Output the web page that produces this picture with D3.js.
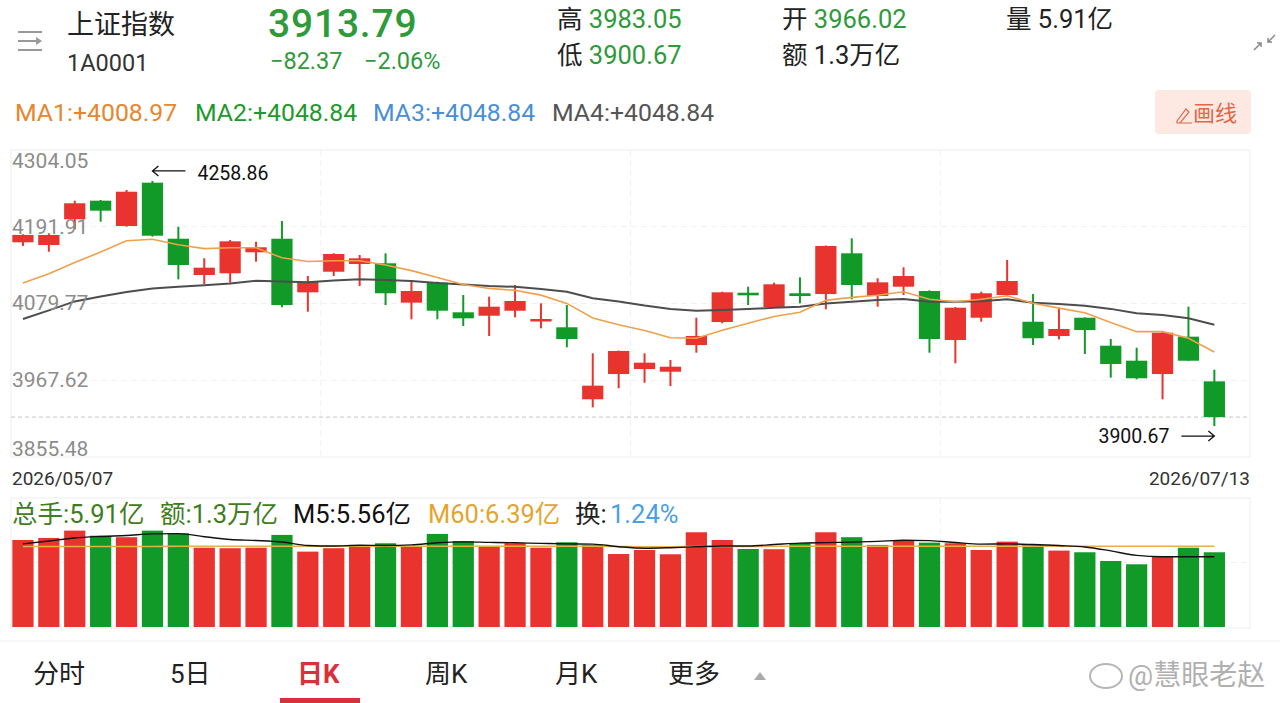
<!DOCTYPE html>
<html>
<head>
<meta charset="utf-8">
<script src="https://cdn.jsdelivr.net/npm/d3@7"></script>
<style>
  body { margin: 0; background: #fff; }
  svg { display: block; font-family: Roboto, "Noto Sans CJK SC", sans-serif; }
</style>
</head>
<body>
<div id="chart"></div>
<script>
// trading days 2026/05/07 .. 2026/07/13
var dates = ['05/07','05/08','05/11','05/12','05/13','05/14','05/15','05/18','05/19','05/20',
  '05/21','05/22','05/25','05/26','05/27','05/28','05/29','06/01','06/02','06/03',
  '06/04','06/05','06/08','06/09','06/10','06/11','06/12','06/15','06/16','06/17',
  '06/18','06/22','06/23','06/24','06/25','06/26','06/29','06/30','07/01','07/02',
  '07/03','07/06','07/07','07/08','07/09','07/10','07/13'];

var open = [4169.2,4165.2,4202.8,4230.0,4193.0,4256.3,4174.4,4121.4,4123.9,4154.6,
  4174.4,4096.1,4126.2,4137.5,4138.5,4081.0,4110.2,4066.9,4061.9,4069.2,
  4054.2,4045.0,3939.8,3976.7,3984.0,3980.1,4019.1,4052.7,4095.5,4074.2,
  4094.7,4093.6,4153.1,4090.7,4104.3,4098.0,4026.4,4059.0,4092.2,4053.1,
  4032.3,4059.0,4018.1,3996.2,3976.7,4031.3,3966.02];
var high = [4180.9,4182.3,4230.0,4231.0,4245.6,4258.86,4192.0,4145.8,4172.5,4170.0,
  4200.3,4119.9,4153.1,4150.6,4153.1,4111.6,4111.6,4092.2,4089.7,4106.8,
  4080.0,4077.5,4007.0,4011.0,4007.0,3997.2,4059.0,4097.0,4104.3,4110.2,
  4118.0,4164.5,4175.0,4116.6,4132.6,4099.0,4074.5,4097.0,4143.3,4093.6,
  4072.7,4059.5,4027.9,4015.2,4038.0,4075.1,3983.05];
var low = [4163.8,4155.4,4188.2,4199.3,4192.0,4177.5,4115.1,4108.2,4110.2,4140.8,
  4074.2,4067.8,4119.9,4105.3,4077.5,4056.7,4056.7,4046.9,4032.3,4059.6,
  4043.5,4015.8,3928.1,3955.9,3964.0,3959.2,4007.9,4050.8,4077.5,4074.0,
  4080.0,4071.3,4085.9,4075.1,4092.2,4007.9,3992.4,4053.1,4091.0,4019.1,
  4027.4,4006.0,3971.4,3969.0,3939.8,3996.0,3900.67];
var close = [4179.9,4179.9,4226.2,4215.4,4243.1,4178.8,4136.0,4132.1,4170.6,4161.9,
  4077.5,4111.6,4152.1,4145.8,4094.7,4098.0,4069.2,4058.1,4075.1,4083.4,
  4057.1,4027.9,3959.7,4010.4,3993.3,3987.4,4032.3,4096.1,4091.7,4107.8,
  4090.7,4163.8,4106.8,4110.7,4119.9,4027.9,4073.6,4094.7,4112.6,4029.0,
  4042.5,4041.0,3991.4,3970.5,4037.1,3996.16,3913.79];

var ma1 = [4109.7,4123.3,4139.7,4155.0,4171.5,4173.6,4165.7,4160.0,4161.2,4161.3,
  4146.5,4141.1,4142.3,4142.3,4136.0,4127.8,4117.8,4107.4,4101.8,4099.0,
  4092.0,4079.9,4058.6,4048.8,4040.2,4029.8,4028.9,4040.6,4051.0,4060.9,
  4066.9,4084.3,4088.7,4091.9,4096.9,4086.0,4082.4,4086.0,4091.0,4080.0,
  4073.0,4066.3,4052.1,4038.6,4038.6,4028.9,4008.97];
var ma2 = [4057.1,4069.7,4082.8,4090.0,4096.6,4101.8,4104.2,4106.6,4109.0,4113.1,
  4111.8,4110.7,4113.4,4115.1,4114.1,4112.6,4109.7,4107.4,4105.3,4104.2,
  4100.8,4097.0,4087.5,4082.7,4076.7,4071.7,4069.2,4070.3,4071.6,4073.5,
  4075.1,4079.9,4082.2,4084.7,4086.3,4082.5,4082.4,4083.0,4085.9,4081.0,
  4079.0,4076.5,4071.9,4065.5,4063.0,4058.2,4048.84];

// volume, 亿
var volume = [6.88,7.04,7.62,7.22,7.10,7.62,7.41,6.27,6.23,6.27,
  7.28,5.96,6.23,6.41,6.62,6.41,7.36,6.80,6.41,6.62,
  6.27,6.70,6.49,5.77,6.09,5.75,7.49,6.88,6.17,6.15,
  6.62,7.49,7.10,6.49,6.80,6.67,6.62,6.09,6.75,6.49,
  6.04,5.91,5.22,4.96,5.56,6.27,5.91];
var volM5 = [6.57,6.80,7.04,7.16,7.24,7.36,7.38,7.14,6.92,6.84,
  6.72,6.45,6.41,6.46,6.45,6.49,6.66,6.73,6.69,6.66,
  6.61,6.57,6.55,6.35,6.23,6.27,6.34,6.41,6.41,6.52,
  6.63,6.67,6.71,6.77,6.86,6.83,6.68,6.55,6.57,6.52,
  6.44,6.33,6.02,5.66,5.56,5.56,5.56];
var volM60 = [6.36,6.36,6.37,6.37,6.37,6.37,6.38,6.38,6.38,6.38,
  6.38,6.38,6.38,6.38,6.38,6.38,6.38,6.38,6.38,6.38,
  6.38,6.38,6.38,6.37,6.35,6.35,6.36,6.37,6.37,6.38,
  6.38,6.38,6.38,6.38,6.38,6.38,6.38,6.38,6.38,6.38,
  6.39,6.39,6.39,6.39,6.39,6.39,6.39];

var priceTicks = [4304.05, 4191.91, 4079.77, 3967.62, 3855.48];
var tabs = ['分时', '5日', '日K', '周K', '月K', '更多'];

var RED = '#e8332f', GREEN = '#129a28';

var svg = d3.select('#chart').append('svg')
  .attr('width', 1280)
  .attr('height', 703);

// ---------------- header ----------------
var head = svg.append('g');
// list icon
head.append('path')
  .attr('d', 'M18,32H42M18,41H36M18,50H42')
  .attr('stroke', '#999').attr('stroke-width', 2).attr('fill', 'none');
head.append('path').attr('d', 'M36,37L42,41L36,45Z').attr('fill', '#999');

head.append('text').attr('x', 67).attr('y', 34).attr('font-size', 27).attr('fill', '#222').text('上证指数');
head.append('text').attr('x', 67).attr('y', 71).attr('font-size', 23.5).attr('fill', '#333').text('1A0001');
head.append('text').attr('x', 268).attr('y', 37).attr('font-size', 39).attr('font-weight', 500)
  .attr('letter-spacing', 0.8)
  .attr('fill', '#2e9a3a').text('3913.79');
head.append('text').attr('x', 270).attr('y', 68.5).attr('font-size', 23.5).attr('fill', '#2e9a3a')
  .text('−82.37');
head.append('text').attr('x', 364).attr('y', 68.5).attr('font-size', 23.5).attr('fill', '#2e9a3a')
  .text('−2.06%');

function pair(x, y, label, val, col) {
  var t = head.append('text').attr('x', x).attr('y', y).attr('font-size', 25.5);
  t.append('tspan').attr('fill', '#222').text(label + ' ');
  t.append('tspan').attr('fill', col).text(val);
}
pair(557, 28, '高', '3983.05', '#2e9a3a');
pair(557, 64, '低', '3900.67', '#2e9a3a');
pair(782, 28, '开', '3966.02', '#2e9a3a');
pair(782, 64, '额', '1.3万亿', '#222');
pair(1006, 28, '量', '5.91亿', '#222');

// collapse icon
head.append('path')
  .attr('d', 'M1254,50L1261,43M1257,43H1261V47M1275,35L1268,42M1268,38V42H1272')
  .attr('stroke', '#888').attr('stroke-width', 1.5).attr('fill', 'none');

// MA legend
var maLegend = [
  {x: 15, t: 'MA1:+4008.97', c: '#e8862c'},
  {x: 195, t: 'MA2:+4048.84', c: '#1e9a2c'},
  {x: 373, t: 'MA3:+4048.84', c: '#4a8fd6'},
  {x: 552, t: 'MA4:+4048.84', c: '#555'}
];
head.selectAll('text.ma').data(maLegend).enter().append('text')
  .attr('class', 'ma')
  .attr('x', function(d) {return d.x;})
  .attr('y', 121)
  .attr('font-size', 24.8)
  .attr('fill', function(d) {return d.c;})
  .text(function(d) {return d.t;});

// 画线 button
head.append('rect').attr('x', 1155).attr('y', 90).attr('width', 96).attr('height', 44)
  .attr('rx', 4).attr('fill', '#fde8e2');
head.append('path').attr('d', 'M1177,121L1186,109L1189,112L1180,123H1177ZM1177,123H1192')
  .attr('stroke', '#e0674a').attr('stroke-width', 1.2).attr('fill', 'none');
head.append('text').attr('x', 1193).attr('y', 121).attr('font-size', 22).attr('fill', '#e0674a').text('画线');

// ---------------- price chart ----------------
var left = 11, right = 1250;
var x = d3.scaleBand()
  .domain(dates)
  .range([10, 1227.3])
  .paddingInner(0.18)
  .paddingOuter(0.09);
var y = d3.scaleLinear().domain([3855.48, 4304.05]).range([457, 150]);

var pg = svg.append('g');
pg.append('rect').attr('x', left).attr('y', 150).attr('width', right - left).attr('height', 307)
  .attr('fill', 'none').attr('stroke', '#eeeeee');

// grid
pg.selectAll('line.hg').data(priceTicks.slice(1, 4)).enter().append('line')
  .attr('class', 'hg')
  .attr('x1', left).attr('x2', right)
  .attr('y1', function(d) {return y(d);}).attr('y2', function(d) {return y(d);})
  .attr('stroke', '#f0f0f0').attr('stroke-dasharray', '6,4');
pg.selectAll('line.vg').data([1, 2, 3]).enter().append('line')
  .attr('class', 'vg')
  .attr('x1', function(d) {return left + (right - left) * d / 4;})
  .attr('x2', function(d) {return left + (right - left) * d / 4;})
  .attr('y1', 150).attr('y2', 457)
  .attr('stroke', '#f0f0f0').attr('stroke-dasharray', '6,4');

// current price line
pg.append('line').attr('x1', left).attr('x2', right)
  .attr('y1', y(3913.79)).attr('y2', y(3913.79))
  .attr('stroke', '#c4c4c4').attr('stroke-dasharray', '4,3');

var candles = dates.map(function(d, i) {
  return {date: d, o: open[i], h: high[i], l: low[i], c: close[i]};
});
function col(d) {return d.c >= d.o ? RED : GREEN;}

var cg = pg.selectAll('g.candle').data(candles).enter().append('g').attr('class', 'candle');
cg.append('line')
  .attr('x1', function(d) {return x(d.date) + x.bandwidth() / 2;})
  .attr('x2', function(d) {return x(d.date) + x.bandwidth() / 2;})
  .attr('y1', function(d) {return y(d.h);})
  .attr('y2', function(d) {return y(d.l);})
  .attr('stroke', col).attr('stroke-width', 2);
cg.append('rect')
  .attr('x', function(d) {return x(d.date);})
  .attr('width', x.bandwidth())
  .attr('y', function(d) {return y(Math.max(d.o, d.c));})
  .attr('height', function(d) {return Math.max(2.5, Math.abs(y(d.o) - y(d.c)));})
  .attr('fill', col);

var lineP = function(arr) {
  return d3.line()
    .x(function(d, i) {return x(dates[i]) + x.bandwidth() / 2;})
    .y(function(d) {return y(d);})(arr);
};
pg.append('path').attr('d', lineP(ma2)).attr('fill', 'none')
  .attr('stroke', '#4d4d4d').attr('stroke-width', 2);
pg.append('path').attr('d', lineP(ma1)).attr('fill', 'none')
  .attr('stroke', '#f0a04b').attr('stroke-width', 1.6);

// axis labels
pg.selectAll('text.pl').data(priceTicks).enter().append('text')
  .attr('class', 'pl')
  .attr('x', 12)
  .attr('y', function(d, i) {
    var yy = y(d) + 7;
    if (i === 0) yy = y(d) + 18;
    if (i === priceTicks.length - 1) yy = y(d) - 1;
    return yy;
  })
  .attr('font-size', 21).attr('fill', '#8c8c8c')
  .text(function(d) {return d.toFixed(2);});

// max / min annotations
var iMax = d3.maxIndex(high), iMin = d3.minIndex(low);
var mxX = x(dates[iMax]) + x.bandwidth() / 2, mxY = y(high[iMax]) - 10;
pg.append('path')
  .attr('d', 'M' + mxX + ',' + mxY + 'H' + (mxX + 33) + 'M' + (mxX + 6) + ',' + (mxY - 5) + 'L' + mxX + ',' + mxY + 'L' + (mxX + 6) + ',' + (mxY + 5))
  .attr('stroke', '#111').attr('stroke-width', 1.3).attr('fill', 'none');
pg.append('text').attr('x', mxX + 45).attr('y', mxY + 9).attr('font-size', 19.5).attr('fill', '#111')
  .text(high[iMax].toFixed(2));
var mnX = x(dates[iMin]) + x.bandwidth() / 2, mnY = y(low[iMin]) + 10;
pg.append('path')
  .attr('d', 'M' + mnX + ',' + mnY + 'H' + (mnX - 33) + 'M' + (mnX - 6) + ',' + (mnY - 5) + 'L' + mnX + ',' + mnY + 'L' + (mnX - 6) + ',' + (mnY + 5))
  .attr('stroke', '#111').attr('stroke-width', 1.3).attr('fill', 'none');
pg.append('text').attr('x', mnX - 45).attr('y', mnY + 7).attr('font-size', 19.5).attr('fill', '#111')
  .attr('text-anchor', 'end').text(low[iMin].toFixed(2));

// date labels
svg.append('text').attr('x', 12).attr('y', 485).attr('font-size', 19).attr('fill', '#333')
  .text('2026/' + dates[0]);
svg.append('text').attr('x', right).attr('y', 485).attr('font-size', 19).attr('fill', '#333')
  .attr('text-anchor', 'end').text('2026/' + dates[dates.length - 1]);

// ---------------- volume ----------------
var yv = d3.scaleLinear().domain([0, 10.2]).range([627, 498]);
var vg = svg.append('g');
vg.append('rect').attr('x', left).attr('y', 498).attr('width', right - left).attr('height', 130)
  .attr('fill', 'none').attr('stroke', '#eeeeee');
vg.append('line').attr('x1', left).attr('x2', right).attr('y1', yv(5.1)).attr('y2', yv(5.1))
  .attr('stroke', '#f0f0f0').attr('stroke-dasharray', '6,4');
vg.append('line').attr('x1', left + (right - left) * 3 / 4).attr('x2', left + (right - left) * 3 / 4)
  .attr('y1', 498).attr('y2', 628).attr('stroke', '#f0f0f0').attr('stroke-dasharray', '6,4');

var volLegend = [
  {x: 12, t: '总手:5.91亿', c: '#3f7d22'},
  {x: 160, t: '额:1.3万亿', c: '#3f7d22'},
  {x: 293, t: 'M5:5.56亿', c: '#111'},
  {x: 428, t: 'M60:6.39亿', c: '#e3a52c'},
  {x: 575, t: '换:', c: '#222'},
  {x: 610, t: '1.24%', c: '#4aa0e0'}
];
vg.selectAll('text.vl').data(volLegend).enter().append('text')
  .attr('class', 'vl')
  .attr('x', function(d) {return d.x;})
  .attr('y', 523)
  .attr('font-size', 25.5)
  .attr('fill', function(d) {return d.c;})
  .text(function(d) {return d.t;});

vg.selectAll('rect.vol').data(candles).enter().append('rect')
  .attr('class', 'vol')
  .attr('x', function(d) {return x(d.date);})
  .attr('width', x.bandwidth())
  .attr('y', function(d, i) {return yv(volume[i]);})
  .attr('height', function(d, i) {return yv(0) - yv(volume[i]);})
  .attr('fill', col);

var lineV = function(arr) {
  return d3.line()
    .curve(d3.curveMonotoneX)
    .x(function(d, i) {return x(dates[i]) + x.bandwidth() / 2;})
    .y(function(d) {return yv(d);})(arr);
};
vg.append('path').attr('d', lineV(volM60)).attr('fill', 'none')
  .attr('stroke', '#e3b04a').attr('stroke-width', 1.6);
vg.append('path').attr('d', lineV(volM5)).attr('fill', 'none')
  .attr('stroke', '#111').attr('stroke-width', 1.4);

// ---------------- tabs ----------------
svg.append('line').attr('x1', 0).attr('x2', 1280).attr('y1', 641).attr('y2', 641)
  .attr('stroke', '#eeeeee');
var tabX = [33, 170, 297, 425, 555, 668];
svg.selectAll('text.tab').data(tabs).enter().append('text')
  .attr('class', 'tab')
  .attr('x', function(d, i) {return tabX[i];})
  .attr('y', 683)
  .attr('font-size', 26)
  .attr('font-weight', function(d) {return d === '日K' ? 700 : 400;})
  .attr('fill', function(d) {return d === '日K' ? '#d9303a' : '#222';})
  .text(function(d) {return d;});
svg.append('path').attr('d', 'M754,680L760,672L766,680Z').attr('fill', '#aaa');
svg.append('rect').attr('x', 280).attr('y', 698).attr('width', 80).attr('height', 5).attr('fill', '#d9303a');

// watermark
svg.append('ellipse').attr('cx', 1106).attr('cy', 676).attr('rx', 16).attr('ry', 12)
  .attr('fill', 'none').attr('stroke', '#b5b5b5').attr('stroke-width', 2);
svg.append('text').attr('x', 1128).attr('y', 685).attr('font-size', 28).attr('fill', '#b0b0b0')
  .text('@慧眼老赵');
</script>
</body>
</html>
